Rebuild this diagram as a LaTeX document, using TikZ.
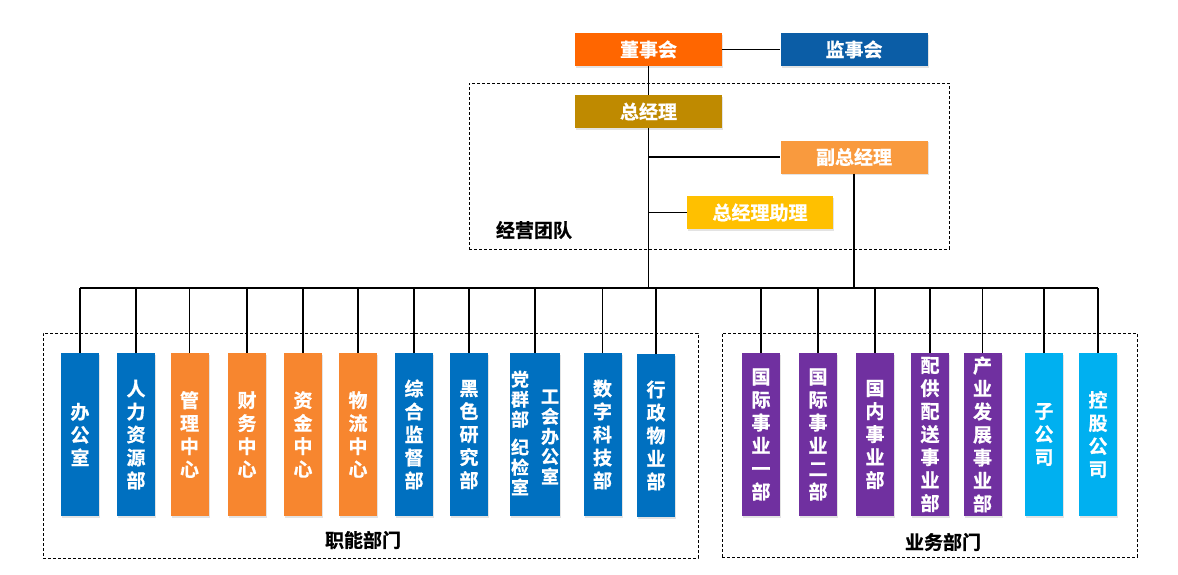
\documentclass[tikz,border=0pt]{standalone}
\usepackage{fontspec}
\setmainfont{Noto Sans CJK SC}[BoldFont={Noto Sans CJK SC Bold},BoldFeatures={FakeBold=0.8}]
\usetikzlibrary{shadows}
\definecolor{cDong}{HTML}{FF6600}
\definecolor{cJian}{HTML}{0B5DA6}
\definecolor{cZjl}{HTML}{BF8A00}
\definecolor{cFu}{HTML}{F99A3E}
\definecolor{cZl}{HTML}{FFC000}
\definecolor{cBlue}{HTML}{0070C0}
\definecolor{cOrange}{HTML}{F7862F}
\definecolor{cPurple}{HTML}{7030A0}
\definecolor{cSky}{HTML}{00B0F0}
\begin{document}
\begin{tikzpicture}[x=1pt,y=-1pt,
  boxshadow/.style={drop shadow={shadow xshift=1.2pt, shadow yshift=-1.5pt, opacity=0.22}},
  topbox/.style={boxshadow, minimum width=147pt, minimum height=33pt, inner sep=0pt, text=white, font=\bfseries\fontsize{19}{22}\selectfont},
  deptbox/.style={boxshadow, minimum width=38pt, minimum height=163pt, inner sep=0pt, text=white, align=center, font=\bfseries\fontsize{19}{23}\selectfont},
  coltext/.style={inner sep=0pt, text=white, align=center, font=\bfseries\fontsize{18}{20}\selectfont},
  groupbox/.style={draw=black, dash pattern=on 3pt off 2pt, line width=0.8pt, inner sep=0pt},
  grouplabel/.style={inner sep=0pt, text=black, font=\bfseries\fontsize{19}{22}\selectfont},
  link/.style={draw=black, line width=1.2pt}
]
\useasboundingbox (0,0) rectangle (1178,574);
\fill[white] (0,0) rectangle (1178,574);

% group frames
\node[groupbox, minimum width=480pt, minimum height=166pt] (team) at (709,166) {};
\node[groupbox, minimum width=655pt, minimum height=225pt] (func) at (370.5,445.5) {};
\node[groupbox, minimum width=415pt, minimum height=224pt] (biz) at (929.5,445) {};
\node[grouplabel] (teamlbl) at (534,230) {经营团队};
\node[grouplabel] (funclbl) at (363,540) {职能部门};
\node[grouplabel] (bizlbl) at (943,542) {业务部门};

% top management
\node[topbox, fill=cDong] (dong) at (648.5,49.5) {董事会};
\node[topbox, fill=cJian] (jian) at (854,49.5) {监事会};
\node[topbox, fill=cZjl] (zjl) at (648.5,111.5) {总经理};
\node[topbox, fill=cFu] (fu) at (854,157) {副总经理};
\node[topbox, fill=cZl, minimum width=146pt] (zl) at (760,212.5) {总经理助理};
\coordinate (bus) at (649,288);

% functional departments
\node[deptbox, fill=cBlue] (d1) at (80,434.5) {办\\公\\室};
\node[deptbox, fill=cBlue] (d2) at (136,434.5) {人\\力\\资\\源\\部};
\node[deptbox, fill=cOrange] (d3) at (189.5,434.5) {管\\理\\中\\心};
\node[deptbox, fill=cOrange] (d4) at (247,434.5) {财\\务\\中\\心};
\node[deptbox, fill=cOrange] (d5) at (303,434.5) {资\\金\\中\\心};
\node[deptbox, fill=cOrange] (d6) at (358,434.5) {物\\流\\中\\心};
\node[deptbox, fill=cBlue] (d7) at (414,434.5) {综\\合\\监\\督\\部};
\node[deptbox, fill=cBlue] (d8) at (469,434.5) {黑\\色\\研\\究\\部};
\node[deptbox, fill=cBlue, minimum width=50pt] (d9) at (535,434.5) {};
\node[coltext] (d9a) at (520,433) {党\\群\\部\\[8pt]纪\\检\\室};
\node[coltext] (d9b) at (550,437) {工\\会\\办\\公\\室};
\node[deptbox, fill=cBlue] (d10) at (602.5,434.5) {数\\字\\科\\技\\部};
\node[deptbox, fill=cBlue] (d11) at (656,435.5) {行\\政\\物\\业\\部};

% business departments
\node[deptbox, fill=cPurple] (d12) at (761,434.5) {国\\际\\事\\业\\一\\部};
\node[deptbox, fill=cPurple] (d13) at (818,434.5) {国\\际\\事\\业\\二\\部};
\node[deptbox, fill=cPurple] (d14) at (875,434.5) {国\\内\\事\\业\\部};
\node[deptbox, fill=cPurple] (d15) at (930,434.5) {配\\供\\配\\送\\事\\业\\部};
\node[deptbox, fill=cPurple] (d16) at (982.5,434.5) {产\\业\\发\\展\\事\\业\\部};
\node[deptbox, fill=cSky] (d17) at (1044,434.5) {子\\公\\司};
\node[deptbox, fill=cSky] (d18) at (1098,434.5) {控\\股\\公\\司};

% connectors
\draw[link] (dong) -- (jian);
\draw[link] (dong) -- (zjl);
\draw[link] (zjl.south) -- (zjl.south |- bus);
\draw[link] (zjl.south |- fu) -- (fu.west);
\draw[link] (zjl.south |- zl) -- (zl.west);
\draw[link] (fu.south) -- (fu.south |- bus);
\draw[link] (d1.north |- bus) -- (d18.north |- bus);
\foreach \n in {d1,d2,d3,d4,d5,d6,d7,d8,d9,d10,d11,d12,d13,d14,d15,d16,d17,d18}
  \draw[link] (\n.north |- bus) -- (\n.north);
\end{tikzpicture}
\end{document}
